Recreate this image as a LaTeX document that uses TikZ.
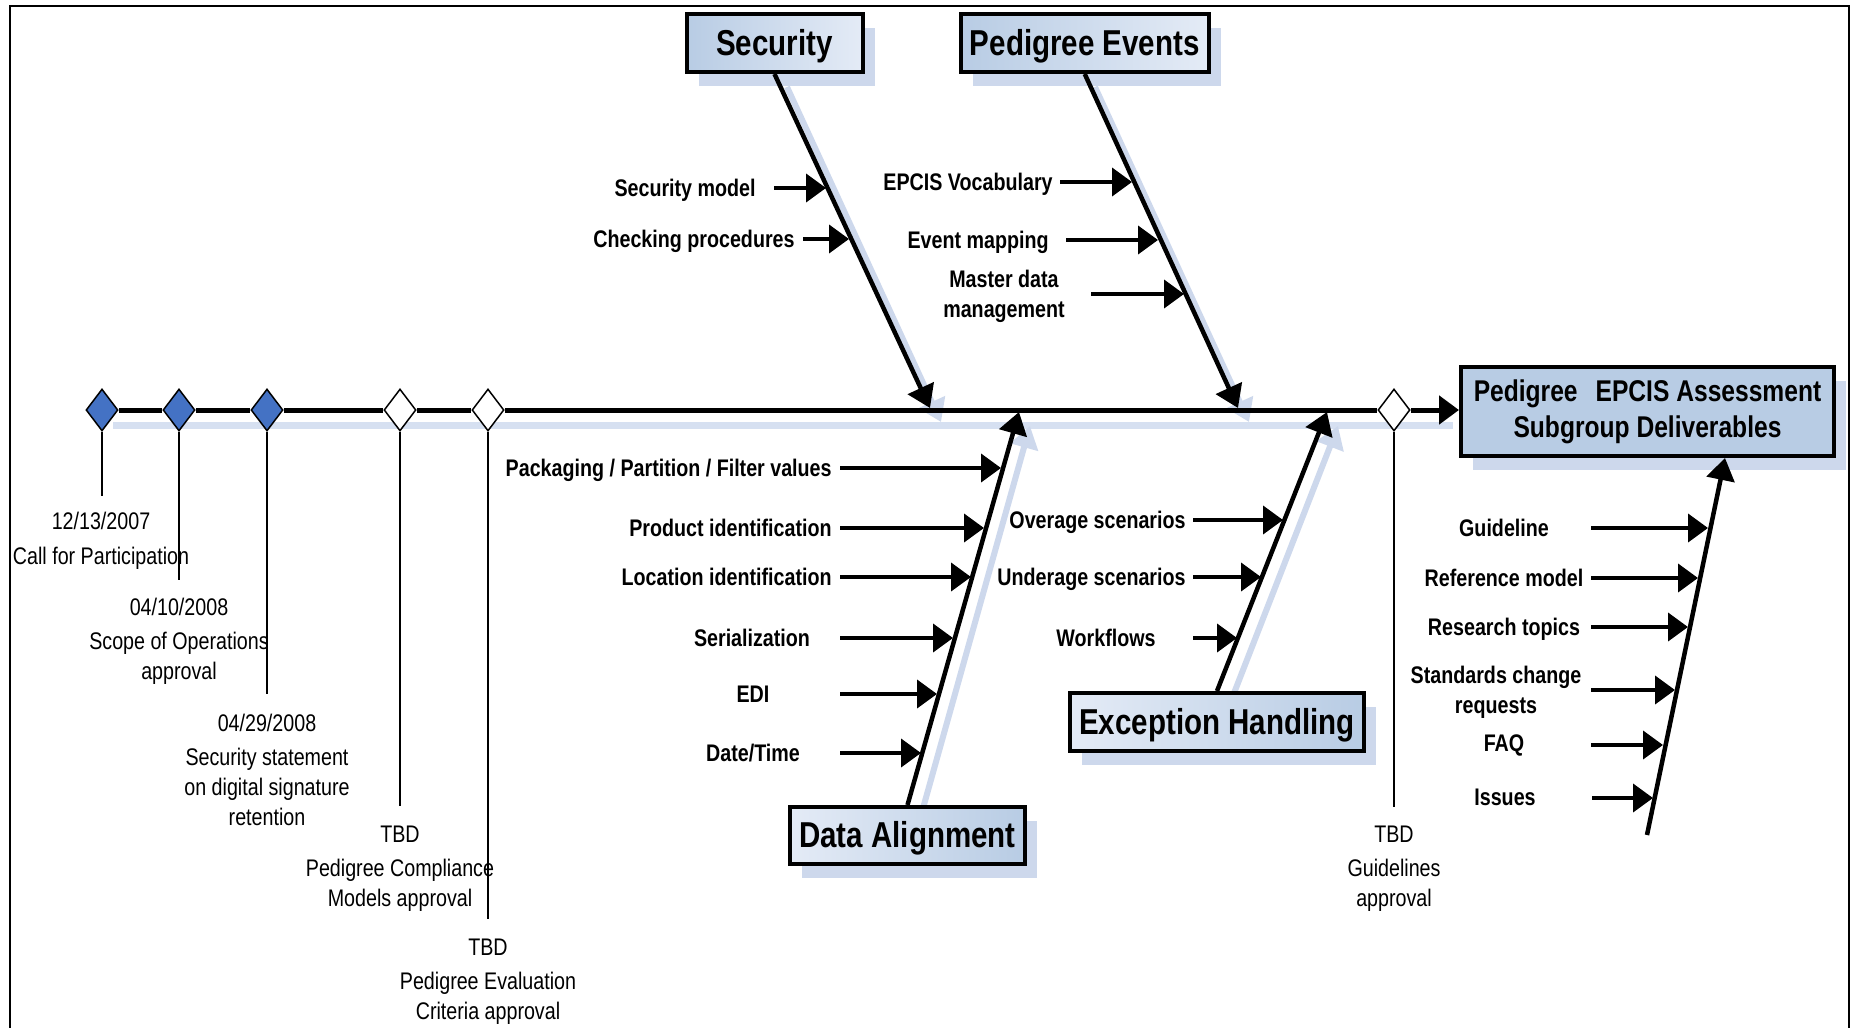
\documentclass[tikz,border=0pt]{standalone}
\usepackage{fontspec}
\setmainfont{Liberation Sans}[FakeStretch=0.82]
\usetikzlibrary{arrows.meta,shapes.geometric,calc,shadows}
\definecolor{diamblue}{RGB}{68,114,196}
\definecolor{boxdark}{RGB}{184,204,228}
\definecolor{boxlight}{RGB}{228,235,246}
\definecolor{shadowc}{RGB}{205,216,236}
\definecolor{spshadowc}{RGB}{214,224,241}
\tikzset{
  frameline/.style={line width=1pt},
  spine/.style={line width=2.5pt},
  bone/.style={line width=2.25pt,-{Triangle[length=11pt,width=14pt]}},
  sub/.style={line width=2pt,-{Triangle[length=10pt,width=14pt]}},
  shad/.style={line width=3pt,shadowc,-{Triangle[length=11pt,width=14pt]}},
  spshad/.style={line width=3.5pt,spshadowc},
  tline/.style={line width=0.75pt},
  ms/.style={diamond,draw=black,line width=0.75pt,minimum width=16pt,minimum height=21pt,inner sep=0pt},
  done/.style={ms,fill=diamblue},
  todo/.style={ms,fill=white},
  lbl/.style={font=\bfseries\fontsize{12}{15}\selectfont,inner sep=0pt,text height=8.6pt,text depth=0pt},
  lbltwo/.style={font=\bfseries\fontsize{12}{15}\selectfont,inner sep=0pt,align=center},
  tl/.style={font=\fontsize{12}{15}\selectfont,inner sep=0pt,align=center},
  head/.style={draw=black,line width=2pt,inner sep=0pt,font=\bfseries\fontsize{18}{22}\selectfont,
    general shadow={fill=shadowc,shadow xshift=6pt,shadow yshift=-7pt}},
  headtext/.style={text height=12pt,text depth=0pt},
}
\begin{document}
\begin{tikzpicture}[x=0.5pt,y=-0.5pt]
\useasboundingbox (0,0) rectangle (1860,1028);
\fill[white] (0,0) rectangle (1860,1028);
% frame
\draw[frameline] (9.5,1028) -- (9.5,6) -- (1849,6) -- (1849,1028);

% shadows of spine and bones
\draw[spshad] (113,425) -- (1453,425);
\draw[shad] (787,87) -- (941,422);
\draw[shad] (1095,87) -- (1249,422);
\draw[shad] (920,819) -- (1030,426);
\draw[shad] (1229,706) -- (1338,426);

% category boxes
\node[head,headtext,shade,left color=boxdark,right color=boxlight,minimum width=88pt,minimum height=29pt] (sec) at (774.5,43) {Security};
\node[head,headtext,shade,left color=boxdark,right color=boxlight,minimum width=124pt,minimum height=29pt] (pev) at (1084.75,43) {Pedigree Events};
\node[head,headtext,shade,left color=boxlight,right color=boxdark,minimum width=117.5pt,minimum height=28.5pt] (da) at (907.5,835.5) {Data Alignment};
\node[head,headtext,shade,left color=boxlight,right color=boxdark,minimum width=147pt,minimum height=29pt] (eh) at (1217,722) {Exception Handling};
\node[head,fill=boxdark,minimum width=186.5pt,minimum height=44.5pt,align=center,font=\bfseries\fontsize{15}{18}\selectfont] (epcis) at (1647.5,411.5) {Pedigree\hspace{9pt}EPCIS Assessment\\Subgroup Deliverables};

% milestones
\node[done] (d1) at (102,410) {};
\node[done] (d2) at (179,410) {};
\node[done] (d3) at (267,410) {};
\node[todo] (d4) at (400,410) {};
\node[todo] (d5) at (488,410) {};
\node[todo] (d6) at (1394,410) {};

% spine
\draw[spine] (d1.east) -- (d2.west);
\draw[spine] (d2.east) -- (d3.west);
\draw[spine] (d3.east) -- (d4.west);
\draw[spine] (d4.east) -- (d5.west);
\draw[spine] (d5.east) -- (d6.west);
\draw[spine,-{Triangle[length=10pt,width=14pt]}] (d6.east) -- (epcis.west |- d6.east);

% milestone drop lines
\coordinate (e1) at (102,496);
\coordinate (e2) at (179,580);
\coordinate (e3) at (267,694);
\coordinate (e4) at (400,806);
\coordinate (e5) at (488,919);
\coordinate (e6) at (1394,807);
\foreach \i in {1,...,6} { \draw[tline] (d\i.south) -- (e\i); }

% milestone labels
\node[tl] (t1) at (101,541) {12/13/2007\\[2.5pt]Call for Participation};
\node[tl] (t2) at (179,641) {04/10/2008\\[2pt]Scope of Operations\\approval};
\node[tl] (t3) at (267,770) {04/29/2008\\[2pt]Security statement\\on digital signature\\retention};
\node[tl] (t4) at (400,869) {TBD\\[2pt]Pedigree Compliance\\Models approval};
\node[tl] (t5) at (488,982) {TBD\\[2pt]Pedigree Evaluation\\Criteria approval};
\node[tl] (t6) at (1394,869) {TBD\\[2pt]Guidelines\\approval};

% main bones
\coordinate (secT) at (930,408);
\coordinate (pevT) at (1238,408);
\coordinate (daT) at (1019,412);
\coordinate (ehT) at (1327,412);
\coordinate (delT) at (1725,458);
\coordinate (delB) at (1647,835);
\draw[bone] (sec.south) -- (secT);
\draw[bone] (pev.south) -- (pevT);
\draw[bone] (da.north) -- (daT);
\draw[bone] (eh.north) -- (ehT);
\draw[bone] (delB) -- (delT);

% sub arrows
\foreach \n/\xa/\xb/\yy in {
  sm/774/826/188, cp/803/849/239,
  ev/1060/1132/182, em/1066/1158/240, md/1091/1184/294,
  pk/840/1001/468, pi/840/984/528, li/840/971/577, se/840/953/638, edi/840/937/694, dt/840/921/753,
  ov/1193/1283/520, un/1193/1261/577, wf/1193/1237/638,
  gl/1591/1708/528, rm/1591/1698/578, rt/1591/1688/627, sc/1591/1675/690, fq/1591/1663/745, is/1592/1653/798}
{
  \coordinate (\n S) at (\xa,\yy);
  \coordinate (\n T) at (\xb,\yy);
  \draw[sub] (\n S) -- (\n T);
}

% sub labels
\node[lbl,anchor=east] (lsm) at (756,188) {Security model};
\node[lbl,anchor=east] (lcp) at (795,239) {Checking procedures};
\node[lbl,anchor=east] (lev) at (1053,182) {EPCIS Vocabulary};
\node[lbl,anchor=east] (lem) at (1049,240) {Event mapping};
\node[lbltwo] (lmd) at (1004,296) {Master data\\management};
\node[lbl,anchor=east] (lpk) at (832,468) {Packaging / Partition / Filter values};
\node[lbl,anchor=east] (lpi) at (832,528) {Product identification};
\node[lbl,anchor=east] (lli) at (832,577) {Location identification};
\node[lbl] (lse) at (752,638) {Serialization};
\node[lbl] (ledi) at (753,694) {EDI};
\node[lbl] (ldt) at (753,753) {Date/Time};
\node[lbl,anchor=east] (lov) at (1186,520) {Overage scenarios};
\node[lbl,anchor=east] (lun) at (1186,577) {Underage scenarios};
\node[lbl] (lwf) at (1106,638) {Workflows};
\node[lbl] (lgl) at (1504,528) {Guideline};
\node[lbl] (lrm) at (1504,578) {Reference model};
\node[lbl] (lrt) at (1504,627) {Research topics};
\node[lbltwo] (lsc) at (1496,692) {Standards change\\requests};
\node[lbl] (lfq) at (1504,743) {FAQ};
\node[lbl] (lis) at (1505,797) {Issues};
\end{tikzpicture}
\end{document}
